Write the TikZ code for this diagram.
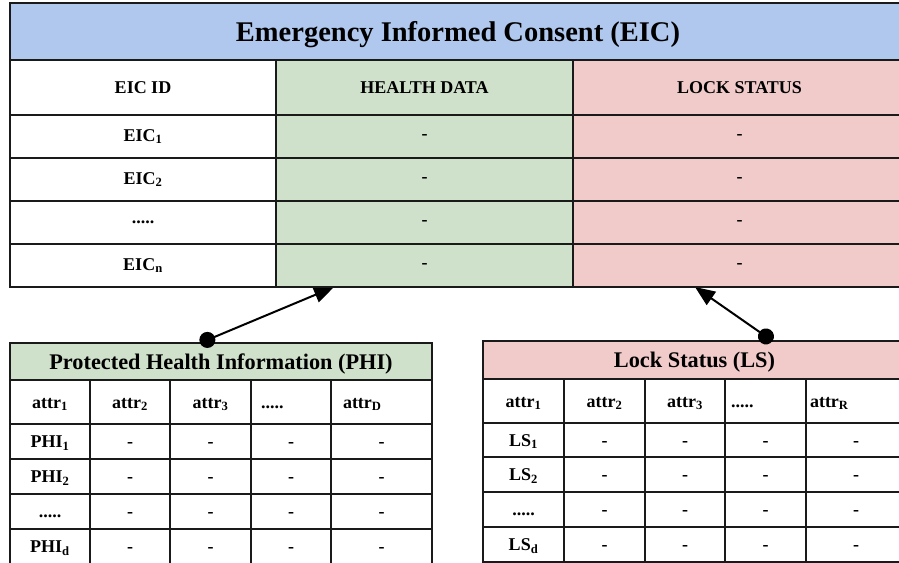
\documentclass[tikz,border=0pt]{standalone}
\usepackage{fontspec}
\setmainfont{Liberation Serif}
\usetikzlibrary{arrows.meta,calc}
\pgfdeclarelayer{front}
\pgfsetlayers{main,front}
\definecolor{eicblue}{HTML}{B0C8EE}
\definecolor{hgreen}{HTML}{CFE0CB}
\definecolor{lpink}{HTML}{F1CACA}
\definecolor{gridline}{HTML}{1A1A1A}
\newcommand\fivedots{.....}
\tikzset{
  cell/.style={draw=gridline, line width=1.3pt, inner sep=0pt, outer sep=0pt,
    anchor=north west, text=black, font=\fontsize{18}{20}\selectfont\bfseries},
  subcell/.style={cell, text height=12pt, text depth=0pt},
  bigtitle/.style={font=\fontsize{28.5}{31}\selectfont\bfseries, text depth=0pt},
  subtitle/.style={font=\fontsize{22.3}{25}\selectfont\bfseries, text depth=0pt},
  hc/.style={},
  phifour/.style={align=left, inner xsep=10pt, text width=60pt},
  phifive/.style={align=left, inner xsep=12pt, text width=77pt},
  lsfour/.style={align=left, inner xsep=6pt, text width=69pt},
  lsfive/.style={align=left, inner xsep=4pt, text width=92pt},
  conn/.style={draw=black, line width=2pt,
    {Circle[length=16pt]}-{Triangle[length=20pt,width=16pt]}}
}
\begin{document}
\begin{tikzpicture}[x=1pt,y=-1pt]
\useasboundingbox (0,0) rectangle (899,562);
\clip (0,0) rectangle (899,562);

% ---------- EIC table (drawn over the arrow tips) ----------
\begin{pgfonlayer}{front}
\node[cell, bigtitle, fill=eicblue, minimum width=896pt, minimum height=57pt] (eic-title) at (10,3) {Emergency Informed Consent (EIC)};
\node[cell, fill=white,  minimum width=266pt, minimum height=55pt] (eic-h1) at (10,60)  {EIC ID};
\node[cell, fill=hgreen, minimum width=297pt, minimum height=55pt] (eic-h2) at (276,60) {HEALTH DATA};
\node[cell, fill=lpink,  minimum width=333pt, minimum height=55pt] (eic-h3) at (573,60) {LOCK STATUS};
\foreach \lab [count=\k] in {{EIC\textsubscript{1}},{EIC\textsubscript{2}},{\fivedots},{EIC\textsubscript{n}}} {
  \pgfmathsetmacro\yy{115+43*(\k-1)}
  \node[cell, fill=white,  minimum width=266pt, minimum height=43pt] (eic-r\k-c1) at (10,\yy)  {\lab};
  \node[cell, fill=hgreen, minimum width=297pt, minimum height=43pt] (eic-r\k-c2) at (276,\yy) {-};
  \node[cell, fill=lpink,  minimum width=333pt, minimum height=43pt] (eic-r\k-c3) at (573,\yy) {-};
}
\end{pgfonlayer}

% ---------- PHI table ----------
\node[cell, subtitle, fill=hgreen, minimum width=422pt, minimum height=37pt] (phi-title) at (10,343) {Protected Health Information (PHI)};
\foreach \x/\w/\t/\s [count=\c] in {10/80/{attr\textsubscript{1}}/hc, 90/80/{attr\textsubscript{2}}/hc, 170/81/{attr\textsubscript{3}}/hc, 251/80/{\fivedots}/phifour, 331/101/{attr\textsubscript{D}}/phifive} {
  \node[subcell, fill=white, minimum width=\w pt, minimum height=44pt, \s] (phi-h\c) at (\x,380) {\t};
}
\foreach \lab/\y/\h [count=\k] in {{PHI\textsubscript{1}}/424/35, {PHI\textsubscript{2}}/459/35, {\fivedots}/494/35, {PHI\textsubscript{d}}/529/35} {
  \node[subcell, fill=white, minimum width=80pt, minimum height=\h pt] (phi-r\k-c1) at (10,\y) {\lab};
  \foreach \x/\w [count=\c from 2] in {90/80, 170/81, 251/80, 331/101} {
    \node[subcell, fill=white, minimum width=\w pt, minimum height=\h pt] (phi-r\k-c\c) at (\x,\y) {-};
  }
}

% ---------- LS table ----------
\node[cell, subtitle, fill=lpink, minimum width=423pt, minimum height=38pt] (ls-title) at (483,341) {Lock Status (LS)};
\foreach \x/\w/\t/\s [count=\c] in {483/81/{attr\textsubscript{1}}/hc, 564/81/{attr\textsubscript{2}}/hc, 645/80/{attr\textsubscript{3}}/hc, 725/81/{\fivedots}/lsfour, 806/100/{attr\textsubscript{R}}/lsfive} {
  \node[subcell, fill=white, minimum width=\w pt, minimum height=44pt, \s] (ls-h\c) at (\x,379) {\t};
}
\foreach \lab/\y/\h [count=\k] in {{LS\textsubscript{1}}/423/34, {LS\textsubscript{2}}/457/35, {\fivedots}/492/35, {LS\textsubscript{d}}/527/35} {
  \node[subcell, fill=white, minimum width=81pt, minimum height=\h pt] (ls-r\k-c1) at (483,\y) {\lab};
  \foreach \x/\w [count=\c from 2] in {564/81, 645/80, 725/81, 806/100} {
    \node[subcell, fill=white, minimum width=\w pt, minimum height=\h pt] (ls-r\k-c\c) at (\x,\y) {-};
  }
}

% ---------- connectors ----------
\coordinate (phi-link) at ($(phi-title.north west)+(190,0)$);
\coordinate (eic-in1) at ($(eic-r4-c2.south west)+(58,0)$);
\coordinate (ls-link) at ($(ls-title.north west)+(289.5,0)$);
\coordinate (eic-in2) at ($(eic-r4-c3.south west)+(122,0)$);
\draw[conn] (phi-link) -- (eic-in1);
\draw[conn] (ls-link) -- (eic-in2);
\end{tikzpicture}
\end{document}
